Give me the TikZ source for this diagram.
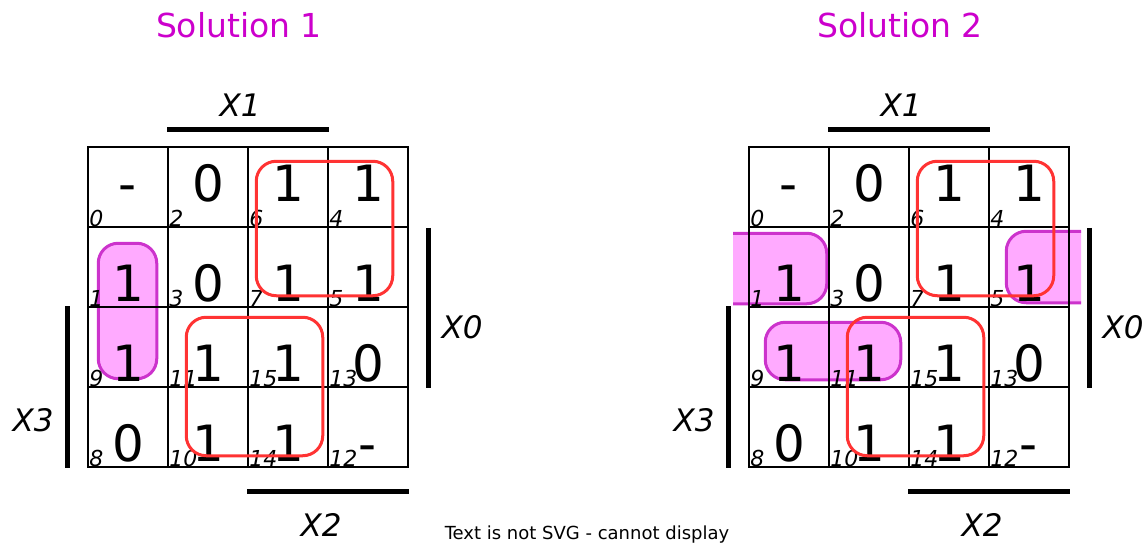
\documentclass[tikz,border=0pt]{standalone}
\usepackage{fontspec}
\setmainfont{DejaVu Sans}
\usetikzlibrary{backgrounds}
\definecolor{titlemag}{HTML}{CC00CC}
\definecolor{grpred}{HTML}{FF3333}
\definecolor{grpfill}{HTML}{FFAAFF}
\definecolor{grpline}{HTML}{CC33CC}
\begin{document}
\begin{tikzpicture}[x=1pt, y=-1pt,
    cell/.style={draw, line width=1.5pt, minimum size=80pt, inner sep=0pt},
    val/.style={font=\fontsize{50}{50}\selectfont, anchor=base, inner sep=0pt},
    idx/.style={font=\fontsize{22}{22}\selectfont\itshape, anchor=base west, inner sep=0pt},
    lbl/.style={font=\fontsize{31}{31}\selectfont\itshape, inner sep=0pt},
    bar/.style={line width=5pt},
    redgrp/.style={draw=grpred, line width=3pt, rounded corners=20pt},
    maggrp/.style={fill=grpfill, draw=grpline, line width=3pt, rounded corners=20pt}]
\useasboundingbox (0,0) rectangle (1144,544);
\foreach \s/\ox/\t in {a/0/1, b/661/2}
{
  \begin{scope}[xshift=\ox]
    \node[titlemag, font=\fontsize{33}{33}\selectfont] (\s title) at (239,25) {Solution \t};
    % cells with their numbers
    \foreach \n/\c/\r/\v in {0/0/0/-, 2/1/0/0, 6/2/0/1, 4/3/0/1,
                             1/0/1/1, 3/1/1/0, 7/2/1/1, 5/3/1/1,
                             9/0/2/1, 11/1/2/1, 15/2/2/1, 13/3/2/0,
                             8/0/3/0, 10/1/3/1, 14/2/3/1, 12/3/3/-}
    {
      \pgfmathsetmacro\dy{\r==0 ? 55 : 75}
      \node[cell] (\s\n) at (128+80*\c, 187+80*\r) {};
      \node[idx] (\s i\n) at ([xshift=2pt, yshift=1pt]\s\n.south west) {\n};
      \node[val] (\s v\n) at ([yshift=-\dy pt]\s\n.north) {\v};
    }
    % groups of ones
    \draw[redgrp] ([shift={(9,15)}]\s6.north west) rectangle ([shift={(-16,-12)}]\s5.south east);
    \draw[redgrp] ([shift={(19,11)}]\s11.north west) rectangle ([shift={(-6,-12)}]\s14.south east);
    % variable bars
    \draw[bar] ([yshift=17pt]\s2.north west) -- ([yshift=17pt]\s6.north east);
    \draw[bar] ([xshift=20pt]\s4.south east) -- ([xshift=20pt]\s13.south east);
    \draw[bar] ([xshift=-20pt]\s9.north west) -- ([xshift=-20pt]\s8.south west);
    \draw[bar] ([yshift=-24pt]\s14.south west) -- ([yshift=-24pt]\s12.south east);
    \node[lbl] (\s x1) at (240,105) {X1};
    \node[lbl] (\s x0) at (462,327) {X0};
    \node[lbl] (\s x3) at (33,420) {X3};
    \node[lbl] (\s x2) at (321,525) {X2};
  \end{scope}
}
\begin{scope}[on background layer]
  \filldraw[maggrp] ([shift={(11,17)}]a1.north west) rectangle ([shift={(-12,-9)}]a9.south east);
  \begin{scope}
    \clip (733,0) rectangle (1081,544);
    \filldraw[maggrp] ([shift={(-40,7)}]b1.north west) rectangle ([shift={(-3,-4)}]b1.south east);
    \filldraw[maggrp] ([shift={(18,5)}]b5.north west) rectangle ([shift={(40,-5)}]b5.south east);
  \end{scope}
  \filldraw[maggrp] ([shift={(17,16)}]b9.north west) rectangle ([shift={(-9,-8)}]b11.south east);
\end{scope}
\node[font=\fontsize{18}{18}\selectfont] (note) at (587,535) {Text is not SVG - cannot display};
\end{tikzpicture}
\end{document}
